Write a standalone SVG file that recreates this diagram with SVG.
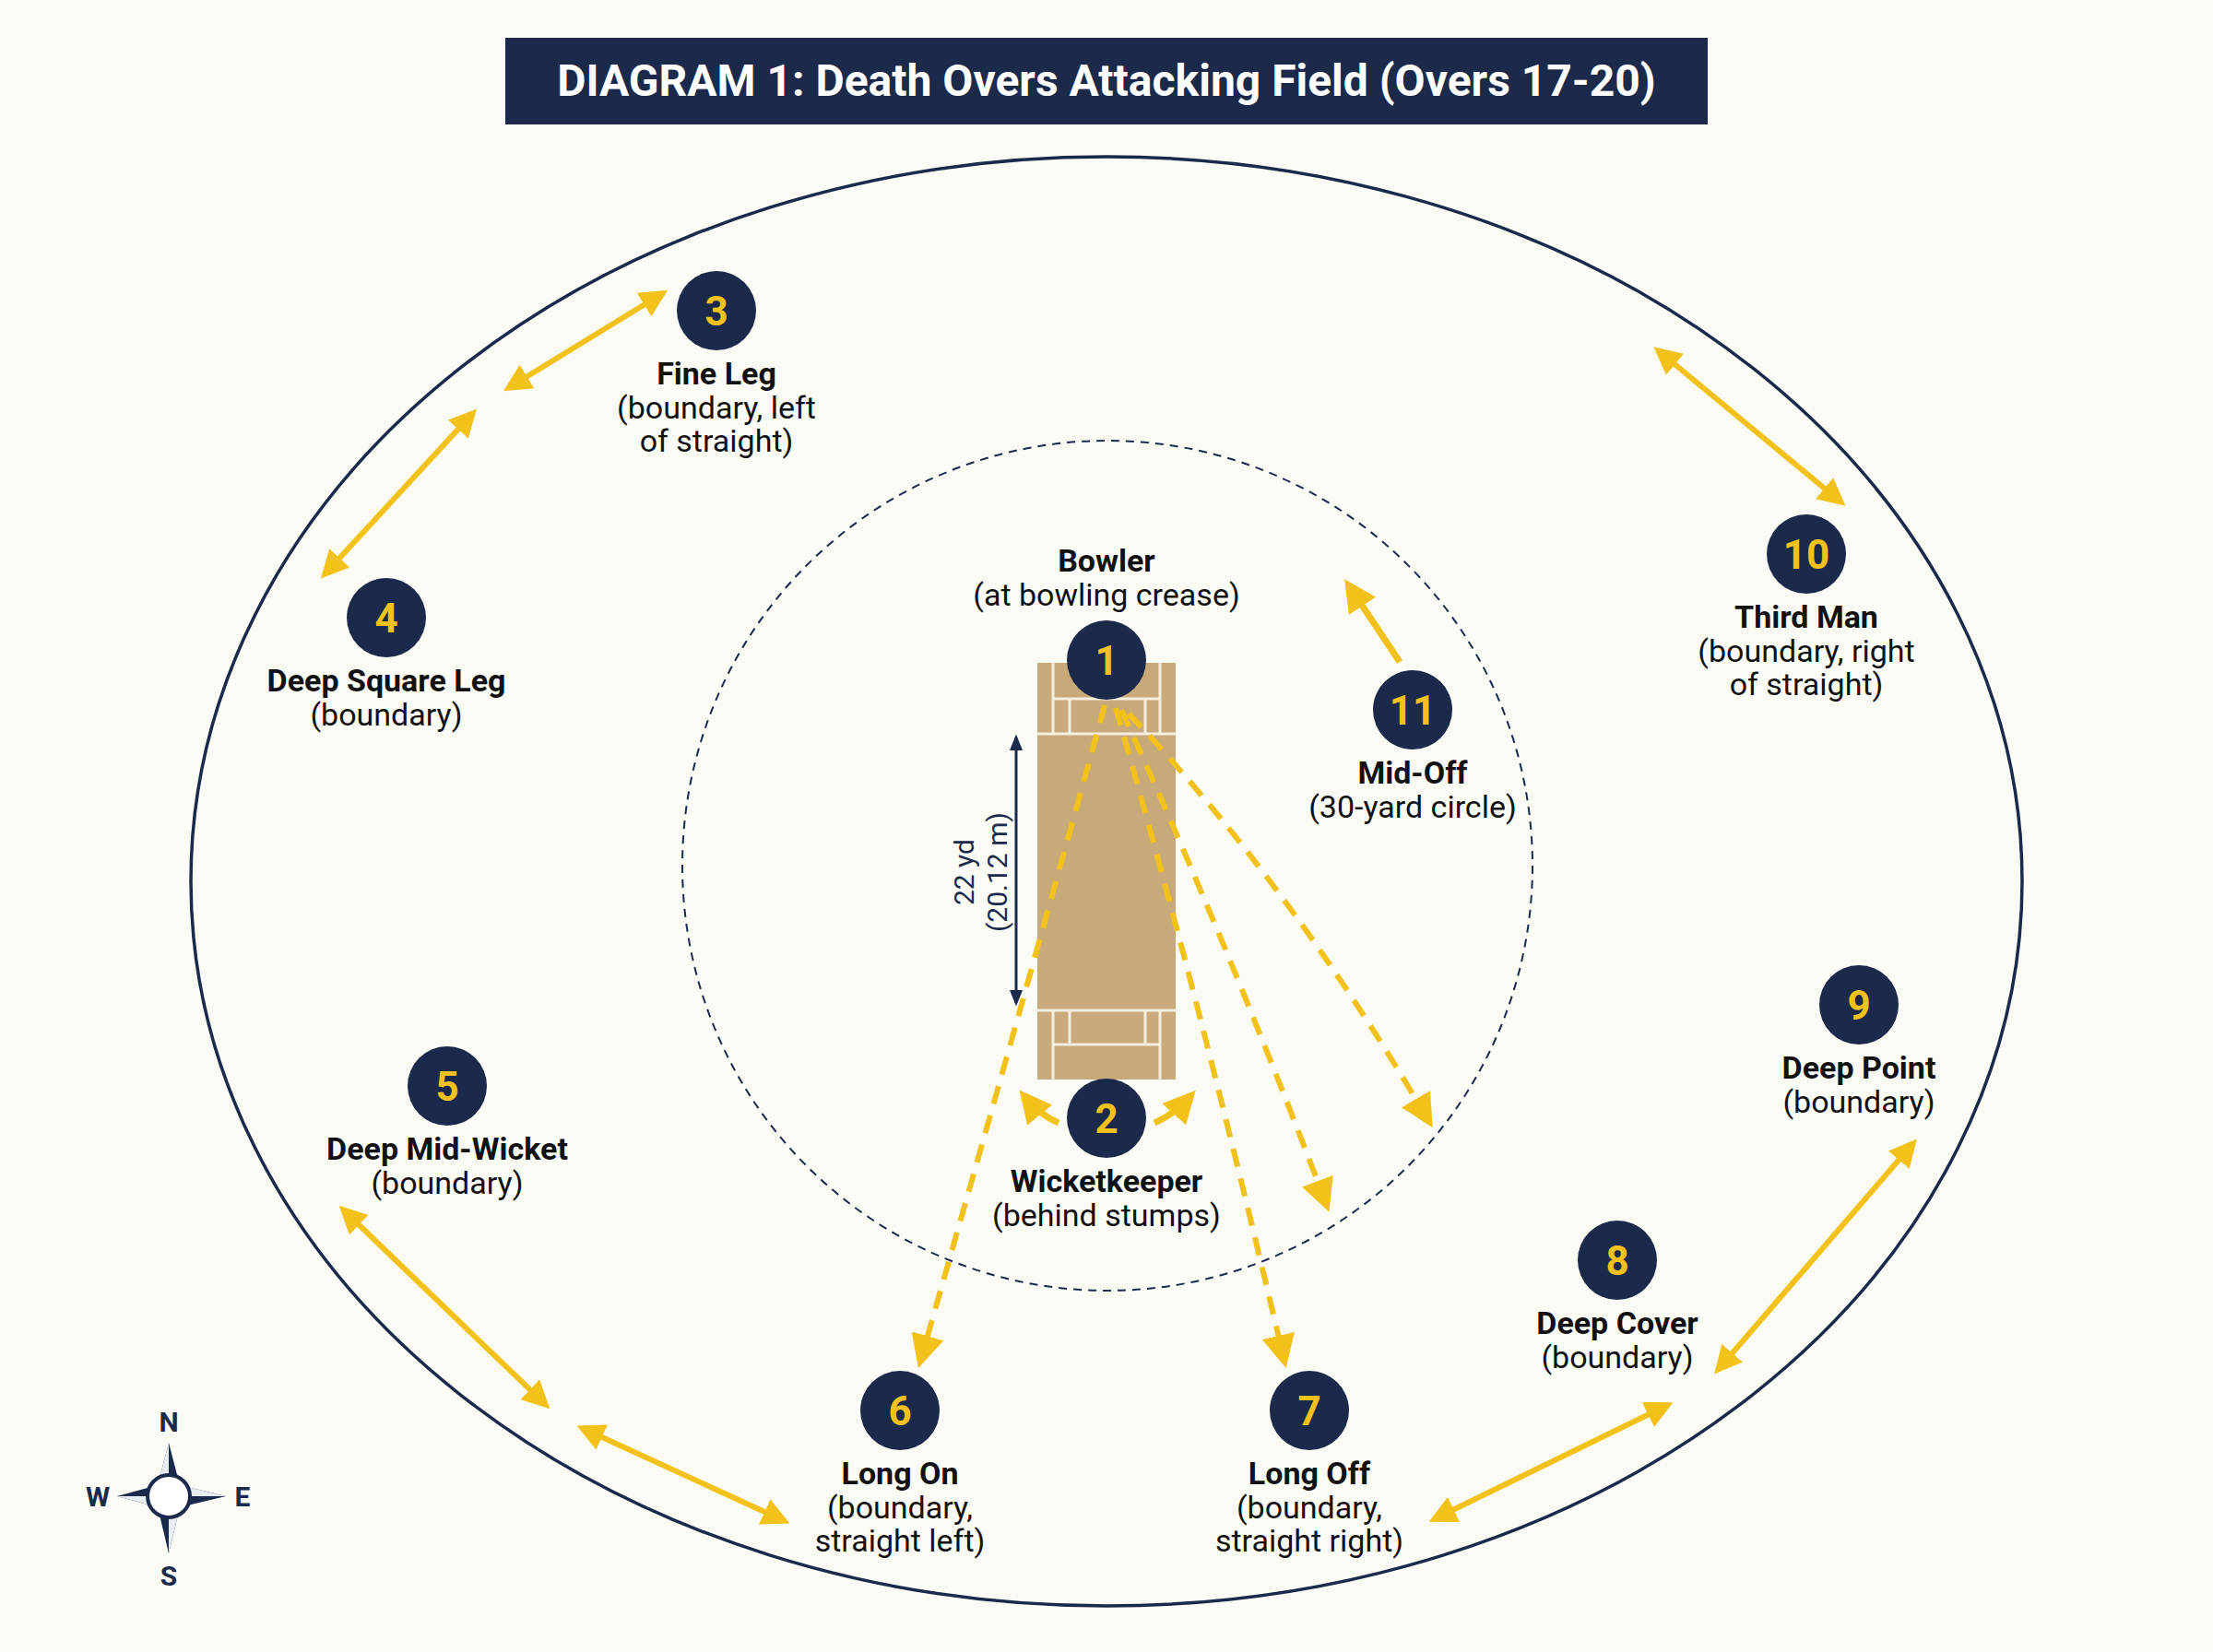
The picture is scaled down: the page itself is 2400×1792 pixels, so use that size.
<svg xmlns="http://www.w3.org/2000/svg" width="2400" height="1792" viewBox="0 0 2400 1792">
<defs>
<marker id="ah" viewBox="0 0 10 10" refX="8" refY="5" markerWidth="5" markerHeight="5" orient="auto-start-reverse" markerUnits="strokeWidth"><path d="M0,0 L10,5 L0,10 Z" fill="#F2C21B"/></marker>
<marker id="ahd" viewBox="0 0 10 10" refX="8" refY="5" markerWidth="6" markerHeight="6" orient="auto" markerUnits="strokeWidth"><path d="M0,0 L10,5 L0,10 Z" fill="#F2C21B"/></marker>
<marker id="na" viewBox="0 0 10 10" refX="8" refY="5" markerWidth="6" markerHeight="6" orient="auto-start-reverse" markerUnits="strokeWidth"><path d="M0,1 L10,5 L0,9 Z" fill="#1B2A4A"/></marker>
</defs>
<style>
.n{fill:#1B2A4A}
.num{fill:#F2C21B;font-family:Roboto,"Liberation Sans",sans-serif;font-weight:bold;font-size:44px;text-anchor:middle}
.b{fill:#111;font-family:Roboto,"Liberation Sans",sans-serif;font-weight:bold;font-size:34px;text-anchor:middle}
.r{fill:#111;font-family:Roboto,"Liberation Sans",sans-serif;font-size:34px;text-anchor:middle}
.da{fill:none;stroke:#F2C21B;stroke-width:6;marker-start:url(#ah);marker-end:url(#ah)}
.sa{fill:none;stroke:#F2C21B;stroke-width:7;marker-end:url(#ah)}
.dash{fill:none;stroke:#F2C21B;stroke-width:6;stroke-dasharray:20 13;marker-end:url(#ahd)}
.pl{stroke:#F3EEDF;stroke-width:3}
.cl{font-family:Roboto,"Liberation Sans",sans-serif;font-weight:bold;font-size:30px;fill:#1B2A4A;text-anchor:middle}
</style>
<rect width="2400" height="1792" fill="#FBFBF6"/>
<g id="title"><rect x="548" y="41" width="1304" height="94" fill="#1B2A4A"/>
<text x="1200" y="104" font-family="Roboto,'Liberation Sans',sans-serif" font-weight="bold" font-size="48" fill="#fff" text-anchor="middle">DIAGRAM 1: Death Overs Attacking Field (Overs 17-20)</text></g>
<g id="field">
<ellipse cx="1200" cy="956" rx="993" ry="786" fill="none" stroke="#1B2A4A" stroke-width="3.5"/>
<circle cx="1201" cy="939" r="461" fill="none" stroke="#1B2A4A" stroke-width="2" stroke-dasharray="9 7"/>
</g>
<g id="pitch">
<rect x="1125" y="719" width="150" height="452" fill="#C8A97A"/>
<line class="pl" x1="1125" y1="796" x2="1275" y2="796"/>
<line class="pl" x1="1142" y1="758" x2="1258" y2="758"/>
<line class="pl" x1="1142" y1="719" x2="1142" y2="796"/>
<line class="pl" x1="1258" y1="719" x2="1258" y2="796"/>
<line class="pl" x1="1160" y1="758" x2="1160" y2="796"/>
<line class="pl" x1="1242" y1="758" x2="1242" y2="796"/>
<line class="pl" x1="1125" y1="1096" x2="1275" y2="1096"/>
<line class="pl" x1="1142" y1="1133" x2="1258" y2="1133"/>
<line class="pl" x1="1142" y1="1096" x2="1142" y2="1171"/>
<line class="pl" x1="1258" y1="1096" x2="1258" y2="1171"/>
<line class="pl" x1="1160" y1="1096" x2="1160" y2="1133"/>
<line class="pl" x1="1242" y1="1096" x2="1242" y2="1133"/>
<line x1="1102" y1="800" x2="1102" y2="1088" stroke="#1B2A4A" stroke-width="3" marker-start="url(#na)" marker-end="url(#na)"/>
<g transform="translate(1064,946) rotate(-90)" font-family="Roboto,'Liberation Sans',sans-serif" font-size="30" fill="#1B2A4A" text-anchor="middle"><text x="0" y="-8">22 yd</text><text x="0" y="28">(20.12 m)</text></g>
</g>
<g id="connectors">
<path class="dash" d="M1198,765 Q1120,1050 998,1477"/>
<path class="dash" d="M1210,768 Q1300,1080 1393,1477"/>
<path class="dash" d="M1216,770 Q1330,1020 1439,1308"/>
<path class="dash" d="M1224,774 Q1400,960 1550,1217"/>
<line class="da" x1="719" y1="318" x2="551" y2="421"/>
<line class="da" x1="513" y1="448" x2="352" y2="623"/>
<line class="da" x1="1798" y1="380" x2="1997" y2="545"/>
<line class="da" x1="372" y1="1312" x2="592" y2="1524"/>
<line class="da" x1="631" y1="1549" x2="851" y2="1650"/>
<line class="da" x1="1555" y1="1648" x2="1809" y2="1524"/>
<line class="da" x1="1863" y1="1486" x2="2075" y2="1240"/>
<line class="sa" x1="1518" y1="718" x2="1462" y2="634"/>
<path class="sa" d="M1148,1218 Q1128,1210 1110,1188"/>
<path class="sa" d="M1252,1218 Q1272,1210 1292,1188"/>
</g>
<g id="n1"><circle class="n" cx="1200" cy="716" r="43"/><text class="num" x="1200" y="732">1</text><text class="b" x="1200" y="620">Bowler</text><text class="r" x="1200" y="657">(at bowling crease)</text></g>
<g id="n2"><circle class="n" cx="1200" cy="1213" r="43"/><text class="num" x="1200" y="1229">2</text><text class="b" x="1200" y="1293">Wicketkeeper</text><text class="r" x="1200" y="1330">(behind stumps)</text></g>
<g id="n3"><circle class="n" cx="777" cy="337" r="43"/><text class="num" x="777" y="353">3</text><text class="b" x="777" y="417">Fine Leg</text><text class="r" x="777" y="454">(boundary, left</text><text class="r" x="777" y="490">of straight)</text></g>
<g id="n4"><circle class="n" cx="419" cy="670" r="43"/><text class="num" x="419" y="686">4</text><text class="b" x="419" y="750">Deep Square Leg</text><text class="r" x="419" y="787">(boundary)</text></g>
<g id="n5"><circle class="n" cx="485" cy="1178" r="43"/><text class="num" x="485" y="1194">5</text><text class="b" x="485" y="1258">Deep Mid-Wicket</text><text class="r" x="485" y="1295">(boundary)</text></g>
<g id="n6"><circle class="n" cx="976" cy="1530" r="43"/><text class="num" x="976" y="1546">6</text><text class="b" x="976" y="1610">Long On</text><text class="r" x="976" y="1647">(boundary,</text><text class="r" x="976" y="1683">straight left)</text></g>
<g id="n7"><circle class="n" cx="1420" cy="1530" r="43"/><text class="num" x="1420" y="1546">7</text><text class="b" x="1420" y="1610">Long Off</text><text class="r" x="1420" y="1647">(boundary,</text><text class="r" x="1420" y="1683">straight right)</text></g>
<g id="n8"><circle class="n" cx="1754" cy="1367" r="43"/><text class="num" x="1754" y="1383">8</text><text class="b" x="1754" y="1447">Deep Cover</text><text class="r" x="1754" y="1484">(boundary)</text></g>
<g id="n9"><circle class="n" cx="2016" cy="1090" r="43"/><text class="num" x="2016" y="1106">9</text><text class="b" x="2016" y="1170">Deep Point</text><text class="r" x="2016" y="1207">(boundary)</text></g>
<g id="n10"><circle class="n" cx="1959" cy="601" r="43"/><text class="num" x="1959" y="617">10</text><text class="b" x="1959" y="681">Third Man</text><text class="r" x="1959" y="718">(boundary, right</text><text class="r" x="1959" y="754">of straight)</text></g>
<g id="n11"><circle class="n" cx="1532" cy="770" r="43"/><text class="num" x="1532" y="786">11</text><text class="b" x="1532" y="850">Mid-Off</text><text class="r" x="1532" y="887">(30-yard circle)</text></g>
<g id="compass">
<path d="M183,1565 L195,1611 L183,1623 L171,1611 Z" fill="#1B2A4A"/>
<path d="M183,1685 L195,1635 L183,1623 L171,1635 Z" fill="#1B2A4A"/>
<path d="M127,1623 L171,1611 L183,1623 L171,1635 Z" fill="#1B2A4A"/>
<path d="M245,1623 L195,1611 L183,1623 L195,1635 Z" fill="#1B2A4A"/>
<path d="M183,1565 L171,1611 L183,1623 Z M127,1623 L171,1635 L183,1623 Z M183,1685 L195,1635 L183,1623 Z M245,1623 L195,1611 L183,1623 Z" fill="#E8ECF3"/>
<circle cx="183" cy="1623" r="23" fill="#fff" stroke="#1B2A4A" stroke-width="4"/>
<text class="cl" x="183" y="1553">N</text><text class="cl" x="183" y="1720">S</text><text class="cl" x="106" y="1634">W</text><text class="cl" x="263" y="1634">E</text>
</g>
</svg>
